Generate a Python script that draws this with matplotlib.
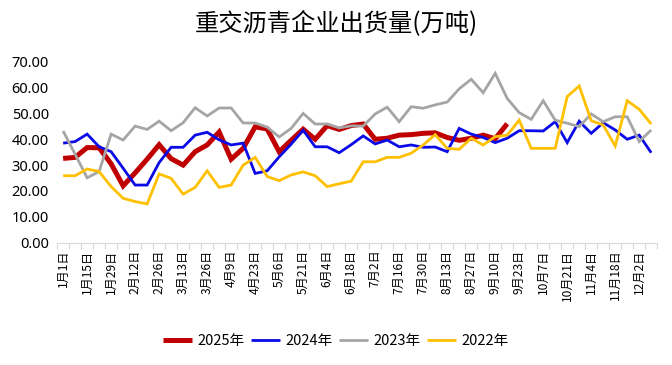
import matplotlib
matplotlib.use("Agg")
import matplotlib.pyplot as plt
import numpy as np

plt.rcParams['font.family'] = ['Noto Sans CJK SC', 'DejaVu Sans']

tick_labels = ["1月1日", "1月15日", "1月29日", "2月12日", "2月26日", "3月13日", "3月26日",
               "4月9日", "4月23日", "5月6日", "5月21日", "6月4日", "6月18日", "7月2日",
               "7月16日", "7月30日", "8月13日", "8月27日", "9月10日", "9月23日", "10月7日",
               "10月21日", "11月4日", "11月18日", "12月2日"]

series_names = ["2025年", "2024年", "2023年", "2022年"]

y2025 = [32.6, 33.0, 36.8, 36.7, 30.5, 22.0, 27.0, 32.3, 37.9, 32.5,
         30.0, 35.2, 37.8, 42.8, 32.3, 36.5, 44.8, 44.0, 35.2, 39.6,
         43.9, 40.0, 45.3, 43.8, 45.3, 45.9, 40.0, 40.4, 41.6, 41.8,
         42.3, 42.5, 40.7, 39.6, 40.4, 41.6, 40.2, 46.0]

y2024 = [38.5, 39.1, 42.0, 37.1, 35.2, 28.8, 22.3, 22.3, 31.0, 36.9,
         36.9, 41.6, 42.7, 39.8, 37.8, 38.5, 26.8, 27.8, 33.2, 38.1,
         43.5, 37.1, 37.1, 34.8, 37.9, 41.3, 38.2, 39.7, 37.1, 37.8,
         36.9, 37.0, 35.2, 44.2, 42.0, 40.7, 38.7, 40.4, 43.3, 43.3,
         43.2, 46.8, 38.7, 47.0, 42.3, 46.4, 43.6, 40.0, 41.6, 34.8]

y2023 = [43.2, 34.2, 25.1, 27.5, 42.0, 39.7, 45.1, 43.8, 47.0, 43.3,
         46.4, 52.2, 49.0, 52.1, 52.1, 46.3, 46.3, 44.7, 40.9, 44.2,
         50.0, 45.9, 45.9, 44.4, 45.2, 45.1, 49.8, 52.4, 46.8, 52.6,
         52.0, 53.3, 54.4, 59.5, 63.2, 58.0, 65.5, 55.8, 50.3, 47.7,
         54.9, 47.4, 46.2, 44.9, 49.8, 46.8, 48.7, 48.7, 39.1, 43.6]

y2022 = [25.9, 25.9, 28.5, 27.5, 21.7, 17.2, 15.9, 15.0, 26.6, 24.9,
         18.8, 21.4, 27.8, 21.4, 22.3, 30.0, 33.0, 25.6, 24.0, 26.2,
         27.4, 25.9, 21.7, 22.8, 23.8, 31.3, 31.3, 33.0, 33.0, 34.6,
         37.8, 41.8, 36.5, 36.1, 40.4, 37.8, 41.0, 41.6, 47.4, 36.5,
         36.5, 36.5, 56.5, 60.6, 47.2, 45.5, 37.4, 54.9, 51.6, 45.9]

n_cat = len(y2024)
x = np.arange(n_cat)

fig = plt.figure(figsize=(6.72, 3.65), dpi=100)
ax = fig.add_axes([0.085, 0.335, 0.893, 0.496])

styles = [
    (y2025, "#C00000", 3.6),
    (y2024, "#0A0AE6", 2.0),
    (y2023, "#A5A5A5", 2.0),
    (y2022, "#FFC000", 2.0),
]
for (vals, color, lw), name in zip(styles, series_names):
    ax.plot(np.arange(len(vals)), vals, color=color, lw=lw, label=name,
            solid_joinstyle='miter', solid_capstyle='butt')

ax.set_xlim(-0.5, n_cat - 0.5)
ax.set_ylim(0, 70)
ax.set_yticks(np.arange(0, 71, 10))
ax.set_yticklabels([f"{v:.2f}" for v in np.arange(0, 71, 10)],
                   fontsize=10.5, family=['Noto Sans', 'DejaVu Sans'])
ax.tick_params(axis='y', length=0, pad=6)

ax.set_xticks(np.arange(0, 2 * len(tick_labels), 2))
ax.set_xticklabels(tick_labels, rotation=90, fontsize=8.7)
ax.set_xticks(np.arange(-0.5, n_cat, 1), minor=True)
ax.tick_params(axis='x', which='major', length=0, pad=5)
ax.tick_params(axis='x', which='minor', length=4, color='#D9D9D9', width=0.8)

for s in ['top', 'right', 'left']:
    ax.spines[s].set_visible(False)
ax.spines['bottom'].set_color('#D9D9D9')
ax.spines['bottom'].set_linewidth(0.8)

fig.text(0.5, 0.938, "重交沥青企业出货量(万吨)", fontsize=17.5, ha='center', va='center')

fig.legend(loc='center', bbox_to_anchor=(0.5, 0.065), ncol=4, frameon=False,
           fontsize=10.5, handlelength=2.0, handletextpad=0.4, columnspacing=0.4)

fig.savefig("out.png", dpi=100)
